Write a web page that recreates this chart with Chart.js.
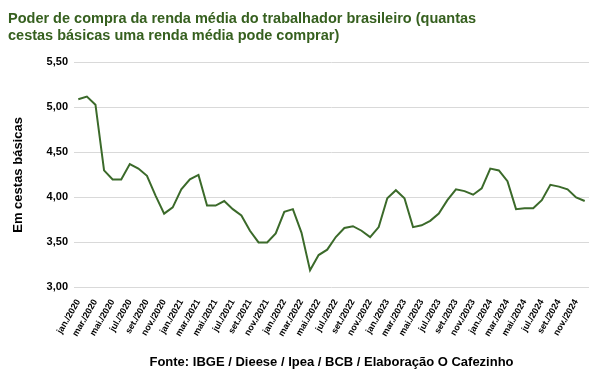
<!DOCTYPE html>
<html lang="pt-BR">
<head>
  <meta charset="UTF-8">
  <title>Poder de compra da renda média</title>
  <script src="https://cdn.jsdelivr.net/npm/chart.js"></script>
  <style>
    html, body { margin: 0; padding: 0; background: #fff; }
    #wrap { width: 600px; height: 371px; }
  </style>
</head>
<body>
  <div id="wrap"><canvas id="chart" width="600" height="371"></canvas></div>
  <script>
    // month labels (jan./2020 ... dez./2024)
    const months = ['jan.', 'fev.', 'mar.', 'abr.', 'mai.', 'jun.', 'jul.', 'ago.', 'set.', 'out.', 'nov.', 'dez.'];
    const years = [2020, 2021, 2022, 2023, 2024];

    // cestas básicas que uma renda média compra
    const cestas = [
      5.09, 5.12, 5.03, 4.30, 4.20, 4.20, 4.37, 4.32, 4.24, 4.02, 3.82, 3.89,
      4.09, 4.20, 4.25, 3.91, 3.91, 3.96, 3.87, 3.80, 3.63, 3.50, 3.50, 3.60,
      3.84, 3.87, 3.61, 3.19, 3.36, 3.42, 3.56, 3.66, 3.68, 3.63, 3.56, 3.67,
      3.99, 4.08, 3.99, 3.67, 3.69, 3.74, 3.82, 3.97, 4.09, 4.07, 4.03, 4.10,
      4.32, 4.30, 4.18, 3.87, 3.88, 3.88, 3.97, 4.14, 4.12, 4.09, 4.00, 3.96
    ];

    const yTicks = [3.0, 3.5, 4.0, 4.5, 5.0, 5.5];

    const labels = [];
    years.forEach(y => months.forEach(m => labels.push(m + '/' + y)));

    const green = '#3b6a2a';
    const fontFam = '"Liberation Sans", Arial, sans-serif';

    new Chart(document.getElementById('chart'), {
      type: 'line',
      data: {
        labels,
        datasets: [{
          data: cestas,
          borderColor: green,
          borderWidth: 2,
          pointRadius: 0,
          tension: 0,
          fill: false
        }]
      },
      options: {
        responsive: false,
        animation: false,
        layout: { padding: { left: 8, right: 11, top: 4, bottom: 0 } },
        plugins: {
          legend: { display: false },
          tooltip: { enabled: false },
          title: {
            display: true,
            align: 'start',
            text: ['Poder de compra da renda média do trabalhador brasileiro (quantas',
                   'cestas básicas uma renda média pode comprar)'],
            color: '#36601f',
            font: { family: fontFam, size: 14.5, weight: 'bold', lineHeight: 1.15 },
            padding: { top: 7, bottom: 18 }
          }
        },
        scales: {
          x: {
            offset: true,
            grid: { display: false },
            border: { display: false },
            ticks: {
              autoSkip: false,
              minRotation: 60,
              maxRotation: 60,
              color: '#000',
              padding: 2,
              font: { family: fontFam, size: 9, weight: 'bold' },
              callback: function (val, i) {
                return i % 2 === 0 ? this.getLabelForValue(val) : '';
              }
            },
            title: {
              display: true,
              text: 'Fonte: IBGE / Dieese / Ipea / BCB / Elaboração O Cafezinho',
              color: '#000',
              font: { family: fontFam, size: 13, weight: 'bold' },
              padding: { top: 14, bottom: 1 }
            }
          },
          y: {
            min: yTicks[0],
            max: yTicks[yTicks.length - 1],
            afterBuildTicks: axis => { axis.ticks = yTicks.map(v => ({ value: v })); },
            grid: { color: '#d9d9d9', lineWidth: 1, drawTicks: false },
            border: { display: false },
            ticks: {
              color: '#000',
              padding: 6,
              font: { family: fontFam, size: 11, weight: 'bold' },
              callback: v => v.toFixed(2).replace('.', ',')
            },
            title: {
              display: true,
              text: 'Em cestas básicas',
              color: '#000',
              font: { family: fontFam, size: 13, weight: 'bold' },
              padding: { top: 3, bottom: 14 }
            }
          }
        }
      }
    });
  </script>
</body>
</html>
